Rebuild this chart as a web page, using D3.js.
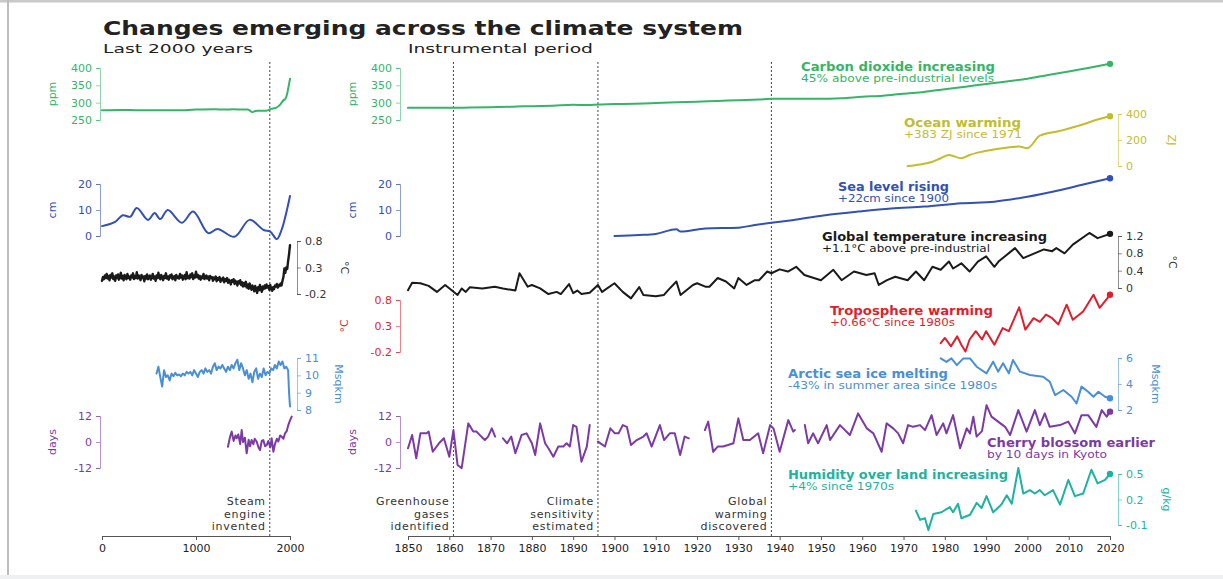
<!DOCTYPE html>
<html>
<head>
<meta charset="utf-8">
<script src="https://cdn.jsdelivr.net/npm/d3@7"></script>
<style>
  body { margin: 0; background: #fff; }
  svg { display: block; font-family: "DejaVu Sans", sans-serif; }
</style>
</head>
<body>
<div id="chart"></div>
<script>
let w = 1223;
let h = 579;

// ---------------- data ----------------

// last 2000 years
let co2Long = [[0,278],[200,279],[400,278],[600,278],[800,278],[1000,280],[1200,281],[1300,280],[1400,281],[1500,280],[1550,280],[1580,276],[1600,272],[1620,275],[1650,277],[1700,277],[1750,277],[1800,282],[1850,285],[1900,296],[1930,307],[1950,311],[1970,326],[1990,354],[2000,369]];

let seaLong = [[0,3.8],[140,5.4],[220,8],[300,7.4],[370,10.8],[490,6.2],[560,8.8],[620,6.5],[700,10],[850,5.1],[970,9.4],[1130,1.1],[1230,2.7],[1410,-0.3],[1570,6.2],[1720,2.3],[1790,1.7],[1860,-1.2],[1910,2.3],[2000,15.4]];

// decadal values, year 0 .. 2000
let tempLongYears = d3.range(0, 2001, 10);
let tempLongVals = [
  0.05, 0.12, 0.08, 0.15, 0.10, 0.18, 0.09, 0.14, 0.06, 0.16, 0.11,
  0.19, 0.08, 0.13, 0.05, 0.15, 0.10, 0.17, 0.07, 0.12, 0.20,
  0.09, 0.14, 0.06, 0.16, 0.11, 0.08, 0.18, 0.10, 0.13, 0.07,
  0.15, 0.11, 0.19, 0.08, 0.14, 0.10, 0.21, 0.09, 0.15, 0.12,
  0.06, 0.16, 0.10, 0.13, 0.04, 0.14, 0.09, 0.17, 0.08, 0.12,
  0.15, 0.07, 0.11, 0.18, 0.09, 0.13, 0.05, 0.15, 0.10, 0.20,
  0.11, 0.08, 0.16, 0.12, 0.06, 0.14, 0.10, 0.19, 0.09, 0.13,
  0.07, 0.15, 0.11, 0.17, 0.08, 0.12, 0.14, 0.06, 0.16, 0.10,
  0.13, 0.09, 0.18, 0.11, 0.15, 0.07, 0.12, 0.16, 0.08, 0.21,
  0.10, 0.14, 0.09, 0.17, 0.12, 0.19, 0.08, 0.15, 0.11, 0.22,
  0.12, 0.16, 0.09, 0.14, 0.07, 0.13, 0.10, 0.18, 0.08, 0.12,
  0.15, 0.09, 0.13, 0.06, 0.14, 0.10, 0.12, 0.05, 0.11, 0.08,
  0.13, 0.04, 0.10, 0.07, 0.12, 0.03, 0.09, 0.06, 0.11, 0.02,
  0.08, 0.05, 0.10, 0.01, 0.07, 0.04, -0.02, 0.06, 0.03, 0.08,
  -0.01, 0.05, 0.02, -0.04, 0.04, 0.00, 0.06, -0.03, 0.02, -0.06,
  0.01, -0.05, 0.03, -0.08, -0.02, -0.10, 0.00, -0.06, -0.12, -0.04,
  -0.09, -0.15, -0.05, -0.11, -0.18, -0.07, -0.13, -0.03, -0.10, -0.16,
  -0.06, -0.11, -0.04, -0.09, -0.02, -0.08, -0.05, -0.12, -0.03, -0.10,
  -0.14, -0.07, -0.11, -0.04, -0.06, -0.01, -0.08, -0.03, -0.05, 0.00,
  -0.04, 0.05, 0.12, 0.28, 0.20, 0.30, 0.27, 0.42, 0.55, 0.72
];

let iceLong = [[580,10.1],[600,10.5],[620,9.9],[640,9.35],[660,10.3],[680,9.9],[700,10.0],[720,9.7],[740,10.1],[760,9.95],[780,10.15],[800,10.0],[820,10.05],[840,9.95],[860,10.1],[880,10.0],[900,10.2],[920,10.1],[940,10.2],[960,10.0],[980,10.3],[1000,10.1],[1020,9.9],[1040,10.2],[1060,10.3],[1080,10.1],[1100,10.4],[1120,10.2],[1140,10.3],[1160,10.1],[1180,10.5],[1200,10.7],[1220,10.3],[1240,10.5],[1260,10.4],[1280,10.6],[1300,10.4],[1320,10.2],[1340,10.5],[1360,10.3],[1380,10.6],[1400,10.4],[1420,10.7],[1440,10.9],[1460,10.3],[1480,10.7],[1500,10.4],[1520,10.0],[1540,10.3],[1560,9.8],[1580,10.1],[1600,9.6],[1620,10.2],[1640,10.4],[1660,9.8],[1680,10.1],[1700,9.9],[1720,10.4],[1740,10.0],[1760,10.2],[1780,10.1],[1800,10.4],[1820,10.3],[1840,10.6],[1860,10.4],[1880,10.8],[1900,10.6],[1920,10.8],[1940,10.4],[1960,10.5],[1980,10.3],[1990,9.0],[2000,8.2]];

let cherryLong = [[1340,-2.2],[1360,2],[1380,4.8],[1400,0.5],[1420,3],[1433,1.7],[1450,3.5],[1470,-1],[1486,5.5],[1500,0],[1520,2],[1539,-5.2],[1560,1],[1575,-2],[1592,0.9],[1610,-1],[1625,1.5],[1645,0.2],[1665,-2.5],[1681,-3.7],[1700,0.5],[1716,0.9],[1735,-2],[1752,-1.4],[1770,0.5],[1790,-2.5],[1805,1.7],[1823,-4.5],[1840,-1],[1860,1.5],[1876,0.2],[1895,3],[1911,2.5],[1930,1.5],[1947,4],[1965,5],[1982,7.8],[2000,10],[2018,11.7]];

// instrumental period
let co2Inst = [[1850,285],[1855,285.5],[1860,285],[1865,286],[1870,287],[1875,288],[1878,290],[1880,290],[1885,291],[1890,294],[1893,293],[1895,294],[1900,296],[1905,297],[1910,299],[1915,301],[1920,303],[1925,305],[1930,307],[1935,309],[1938,311],[1940,311],[1945,311],[1950,311],[1955,313],[1960,317],[1965,320],[1970,326],[1975,331],[1980,339],[1985,346],[1990,354],[1995,361],[2000,369],[2005,380],[2010,390],[2015,401],[2020,412]];

let oceanInst = [[1971,0],[1974,12],[1977,33],[1979,60],[1981,85],[1984,60],[1986,85],[1989,110],[1994,137],[1998,150],[2000,137],[2003,233],[2008,271],[2013,315],[2016,348],[2020,383]];

let seaInst = [[1900,0],[1906,0.4],[1910,0.8],[1915,2.6],[1916,1.7],[1922,2.9],[1930,3.2],[1934,4.2],[1938,5.1],[1943,6.1],[1951,8],[1959,9.4],[1967,10.6],[1975,11.3],[1984,12.6],[1992,13.2],[2000,15.1],[2008,17.7],[2013,19.6],[2020,22.2]];

let tempInst = [[1850,-0.05],[1851,0.12],[1853,0.11],[1855,0.05],[1857,-0.09],[1859,0.07],[1862,-0.16],[1863,-0.01],[1864,-0.09],[1865,0.02],[1868,-0.01],[1871,0.03],[1873,-0.01],[1876,-0.06],[1877,0.34],[1879,0.03],[1880,0.07],[1882,-0.01],[1884,-0.14],[1886,-0.09],[1887,-0.14],[1889,0.09],[1890,-0.12],[1891,-0.06],[1892,-0.14],[1894,-0.11],[1896,0.07],[1897,-0.09],[1900,0.11],[1902,-0.09],[1904,-0.24],[1906,0.02],[1907,-0.16],[1910,-0.19],[1912,-0.16],[1913,-0.05],[1915,0.15],[1916,-0.16],[1919,0.07],[1920,0.11],[1922,0.03],[1923,0.03],[1925,0.23],[1927,0.15],[1929,-0.01],[1930,0.23],[1932,0.07],[1934,0.18],[1935,0.18],[1937,0.38],[1938,0.34],[1940,0.43],[1942,0.38],[1944,0.49],[1946,0.30],[1950,0.18],[1953,0.42],[1955,0.18],[1958,0.38],[1961,0.30],[1963,0.34],[1964,0.07],[1966,0.18],[1968,0.26],[1971,0.18],[1973,0.38],[1975,0.18],[1977,0.49],[1979,0.42],[1981,0.61],[1982,0.45],[1984,0.57],[1986,0.38],[1988,0.61],[1990,0.73],[1992,0.49],[1993,0.61],[1997,0.92],[1999,0.69],[2001,0.77],[2004,0.89],[2006,0.85],[2007,0.92],[2009,0.80],[2011,1.0],[2015,1.27],[2017,1.15],[2020,1.25]];

let tropoInst = [[1979,-0.03],[1980,0.07],[1981.5,-0.09],[1983,0.1],[1984,-0.06],[1985,-0.19],[1986,0.04],[1987.5,0.2],[1989,0.04],[1990,0.2],[1992,-0.06],[1994,0.26],[1995.5,0.2],[1998,0.66],[1999.5,0.23],[2001.5,0.45],[2003,0.38],[2004.5,0.52],[2006,0.45],[2007.5,0.33],[2009.5,0.71],[2011,0.42],[2013.5,0.58],[2016,0.9],[2017.5,0.65],[2020,0.9]];

let iceInst = [[1979,5.97],[1980.4,5.7],[1981.6,5.97],[1982.9,5.45],[1984.5,5.97],[1986.1,5.97],[1987.7,5.33],[1990.1,4.82],[1991.7,5.72],[1992.9,4.95],[1994.1,5.6],[1995.5,4.82],[1996.5,5.85],[1998.2,4.95],[2000.6,4.69],[2003.8,4.56],[2005.4,4.18],[2006.7,3.15],[2008.7,3.54],[2010.7,3.02],[2011.9,2.5],[2013.1,3.8],[2014.7,3.4],[2016,3.02],[2017.2,3.4],[2018.8,3.02],[2020,2.9]];

// null = missing years
let cherryInst = [[1850,-2.9],[1851,3.2],[1852,-7.5],[1853,4],[1854.5,4],[1855,4.8],[1856,-4.5],[1857.5,-0.6],[1858.7,1.7],[1860,-6.8],[1861,5.5],[1862,-10.6],[1863,-12.1],[1864.6,8.6],[1865.8,4.8],[1866.6,4.8],[1867.4,3.2],[1868.6,0.9],[1869.4,2.5],[1870.3,6.3],[1871.1,2.5],[1872,null],[1873,1.7],[1874,-0.6],[1875,2.5],[1876,-5.2],[1877.5,3.2],[1878.7,4],[1880,-0.6],[1880.8,-6],[1882,8.6],[1883.2,-0.6],[1884,-2.9],[1885.2,-6.8],[1886.4,-2.1],[1887.6,-2.1],[1888.4,-0.6],[1889.2,-2.1],[1890,7.8],[1890.8,7],[1892,-9.1],[1893.3,-2.1],[1894,7.8],[1895,null],[1896,0.2],[1897.7,-2.1],[1899,6.3],[1900.1,4],[1901,4],[1902,7.8],[1903,7],[1904,-1.4],[1905.4,0.9],[1907,2.5],[1907.8,4],[1909,-2.1],[1911,7.8],[1912,0.9],[1913.4,4],[1914.6,4],[1915.9,-6],[1917,2.5],[1918,1.7],[1920,null],[1921.9,5.5],[1922.7,9.4],[1923.9,-4.5],[1925,-2.1],[1926.3,-2.1],[1927.5,-1.4],[1928.8,-0.6],[1930,10.9],[1931.2,0.9],[1932.8,0.9],[1934.8,4],[1936,-5.2],[1937.7,7.8],[1938.5,6.3],[1940,-4.5],[1942.1,10.1],[1943.3,4.8],[1943.7,5.5],[1945,null],[1946.1,7.8],[1946.9,-0.6],[1948.1,4],[1949.3,-0.6],[1951.4,7.8],[1952.2,0.9],[1954.6,7.8],[1957,3.2],[1959,13.2],[1961.1,6.3],[1962.7,4],[1964.7,-4.5],[1965.9,8.6],[1967.5,6.3],[1968.7,4],[1969.9,-0.6],[1971.1,7.8],[1972.3,7],[1974,7.8],[1975.2,5.5],[1976.8,12.4],[1978,3.2],[1979.6,8.6],[1980.4,4],[1982,12.4],[1983.7,-2.9],[1985.3,6.3],[1986.1,4],[1986.9,11.7],[1987.7,2.5],[1989,5],[1990.1,17],[1991.3,11.7],[1992.9,9.4],[1994.6,7],[1995.8,3.2],[1997.8,14.7],[1999.8,4.8],[2001.8,14.7],[2003,7.8],[2004.2,13.2],[2005.4,7],[2007.9,7.8],[2009.9,9.4],[2011.5,4],[2013.1,12.4],[2014.7,12.4],[2016.7,7],[2018,14.7],[2019.2,11.7],[2020,14]];

let humInst = [[1973,0.07],[1974,-0.04],[1975.2,-0.02],[1976,-0.16],[1977.2,0.03],[1979.2,0.05],[1981.2,0.11],[1982,0.05],[1983.2,0.15],[1984,-0.02],[1986.1,0.02],[1987.7,0.16],[1988.9,0.1],[1990.1,0.24],[1991.7,0.05],[1993.7,0.14],[1995,0.25],[1996.2,0.15],[1997.8,0.57],[1999,0.27],[2000.6,0.31],[2001.8,0.27],[2003,0.31],[2004.2,0.25],[2006.2,0.31],[2007.9,0.14],[2009.9,0.43],[2011.5,0.24],[2013.5,0.27],[2015.5,0.55],[2017,0.39],[2018.8,0.43],[2020,0.5]];

// tick labels
let longTicks = [0, 1000, 2000];
let instTicks = d3.range(1850, 2021, 10);
let co2Ticks = [250, 300, 350, 400];
let seaTicks = [0, 10, 20];
let tempLongTicks = [-0.2, 0.3, 0.8];
let tempTicks = [0, 0.4, 0.8, 1.2];
let iceLongTicks = [8, 9, 10, 11];
let iceTicks = [2, 4, 6];
let cherryTicks = [-12, 0, 12];
let oceanTicks = [0, 200, 400];
let humTicks = [-0.1, 0.2, 0.5];

// events
let longEvents = [{year: 1785, label: ["Steam", "engine", "invented"]}];
let instEvents = [
  {year: 1861, label: ["Greenhouse", "gases", "identified"]},
  {year: 1896, label: ["Climate", "sensitivity", "estimated"]},
  {year: 1938, label: ["Global", "warming", "discovered"]}
];

// series captions
let captions = [
  {title: "Carbon dioxide increasing", sub: "45% above pre-industrial levels", color: "#35b567"},
  {title: "Ocean warming", sub: "+383 ZJ since 1971", color: "#c2bd2c"},
  {title: "Sea level rising", sub: "+22cm since 1900", color: "#3350b4"},
  {title: "Global temperature increasing", sub: "+1.1°C above pre-industrial", color: "#1a1a1a"},
  {title: "Troposphere warming", sub: "+0.66°C since 1980s", color: "#df1f2d"},
  {title: "Arctic sea ice melting", sub: "-43% in summer area since 1980s", color: "#4a8fd6"},
  {title: "Cherry blossom earlier", sub: "by 10 days in Kyoto", color: "#7b3aa6"},
  {title: "Humidity over land increasing", sub: "+4% since 1970s", color: "#1db3a0"}
];

// ---------------- drawing ----------------

let cCO2 = "#35b567", cOcean = "#c2bd2c", cSea = "#3350b4", cTemp = "#1a1a1a",
    cTropo = "#df1f2d", cIce = "#4a8fd6", cCherry = "#7b3aa6", cHum = "#1db3a0";

let viz = d3.select("#chart")
  .append("svg")
  .attr("width", w)
  .attr("height", h);

// frame of the original figure
viz.append("rect").attr("x", 0).attr("y", 0).attr("width", w).attr("height", 2.5).attr("fill", "#c9c9c9");
viz.append("rect").attr("x", 7).attr("y", 0).attr("width", 2).attr("height", 575).attr("fill", "#bdbdbd");
viz.append("rect").attr("x", 0).attr("y", 575).attr("width", w).attr("height", 4).attr("fill", "#eef0f2");

let xLong = d3.scaleLinear().domain([0, 2000]).range([102, 290]);
let xInst = d3.scaleLinear().domain([1850, 2020]).range([408, 1110]);

let yCO2 = d3.scaleLinear().domain([250, 400]).range([120, 68]);
let ySea = d3.scaleLinear().domain([0, 20]).range([236, 184]);
let yTempLong = d3.scaleLinear().domain([-0.2, 0.8]).range([294, 241]);
let yTemp = d3.scaleLinear().domain([0, 1.2]).range([288, 236]);
let yTropo = d3.scaleLinear().domain([-0.2, 0.8]).range([352, 300]);
let yIceLong = d3.scaleLinear().domain([8, 11]).range([410, 358]);
let yIce = d3.scaleLinear().domain([2, 6]).range([410, 358]);
let yCherry = d3.scaleLinear().domain([-12, 12]).range([468, 416]);
let yOcean = d3.scaleLinear().domain([0, 400]).range([166, 114]);
let yHum = d3.scaleLinear().domain([-0.1, 0.5]).range([525, 474]);

// dotted event lines + their labels
function drawEvents(events, xs){
  events.forEach(function(e){
    viz.append("line")
      .attr("x1", xs(e.year)).attr("x2", xs(e.year))
      .attr("y1", 62).attr("y2", 536)
      .attr("stroke", "#444").attr("stroke-width", 1)
      .attr("stroke-dasharray", "2,2");
    e.label.forEach(function(t, i){
      viz.append("text")
        .attr("x", xs(e.year) - 4)
        .attr("y", 505 + i * 12.5)
        .attr("text-anchor", "end")
        .attr("fill", "#333")
        .style("font-size", "11px")
        .style("letter-spacing", "0.7px")
        .text(t);
    });
  });
}
drawEvents(longEvents, xLong);
drawEvents(instEvents, xInst);

function drawAxis(ys, xPos, side, ticks, color, unit, unitX){
  let ax = (side == "left" ? d3.axisLeft(ys) : d3.axisRight(ys))
    .tickValues(ticks)
    .tickSize(4)
    .tickSizeOuter(4)
    .tickPadding(4)
    .tickFormat(d => String(d));
  let g = viz.append("g")
    .attr("transform", "translate(" + xPos + ",0)")
    .call(ax);
  g.attr("font-family", null).attr("font-size", null);
  g.select(".domain").attr("stroke", color).attr("stroke-opacity", 0.55);
  g.selectAll(".tick line").attr("stroke", color).attr("stroke-opacity", 0.55);
  g.selectAll(".tick text").attr("fill", color).style("font-size", "11px");
  let r = ys.range();
  viz.append("text")
    .attr("transform", "translate(" + unitX + "," + ((r[0] + r[1]) / 2) + ") rotate(" + (side == "left" ? -90 : 90) + ")")
    .attr("text-anchor", "middle")
    .attr("dominant-baseline", "central")
    .attr("fill", color)
    .style("font-size", "11px")
    .text(unit);
}

function drawLine(data, xs, ys, color, sw, curve, dot){
  let line = d3.line()
    .defined(d => d[1] != null)
    .x(d => xs(d[0]))
    .y(d => ys(d[1]))
    .curve(curve || d3.curveLinear);
  viz.append("path")
    .datum(data)
    .attr("d", line)
    .attr("fill", "none")
    .attr("stroke", color)
    .attr("stroke-width", sw)
    .attr("stroke-linejoin", "round")
    .attr("stroke-linecap", "round");
  if(dot){
    let last = data[data.length - 1];
    viz.append("circle")
      .attr("cx", xs(last[0]))
      .attr("cy", ys(last[1]))
      .attr("r", 3.2)
      .attr("fill", color);
  }
}

// left panel axes
drawAxis(yCO2, 100, "left", co2Ticks, cCO2, "ppm", 52);
drawAxis(ySea, 100, "left", seaTicks, cSea, "cm", 52);
drawAxis(yCherry, 100, "left", cherryTicks, cCherry, "days", 52);
drawAxis(yTempLong, 297, "right", tempLongTicks, "#333", "°C", 344);
drawAxis(yIceLong, 297, "right", iceLongTicks, cIce, "Msqkm", 338);

// right panel axes
drawAxis(yCO2, 400, "left", co2Ticks, cCO2, "ppm", 352);
drawAxis(ySea, 400, "left", seaTicks, cSea, "cm", 352);
drawAxis(yTropo, 400, "left", tempLongTicks, cTropo, "°C", 344);
drawAxis(yCherry, 400, "left", cherryTicks, cCherry, "days", 352);
drawAxis(yOcean, 1118, "right", oceanTicks, cOcean, "ZJ", 1171);
drawAxis(yTemp, 1118, "right", tempTicks, "#333", "°C", 1172);
drawAxis(yIce, 1118, "right", iceTicks, cIce, "Msqkm", 1155);
drawAxis(yHum, 1118, "right", humTicks, cHum, "g/kg", 1166);

// left panel series
let tempLong = tempLongYears.map((y, i) => [y, tempLongVals[i]]);
drawLine(co2Long, xLong, yCO2, cCO2, 2, d3.curveMonotoneX, false);
drawLine(seaLong, xLong, ySea, cSea, 2, d3.curveCatmullRom.alpha(0.5), false);
drawLine(tempLong, xLong, yTempLong, cTemp, 2.4, d3.curveLinear, false);
drawLine(iceLong, xLong, yIceLong, cIce, 2, d3.curveLinear, false);
drawLine(cherryLong, xLong, yCherry, cCherry, 2, d3.curveLinear, false);

// right panel series
drawLine(co2Inst, xInst, yCO2, cCO2, 2, d3.curveMonotoneX, true);
drawLine(oceanInst, xInst, yOcean, cOcean, 2, d3.curveMonotoneX, true);
drawLine(seaInst, xInst, ySea, cSea, 2, d3.curveMonotoneX, true);
drawLine(tempInst, xInst, yTemp, cTemp, 2, d3.curveLinear, true);
drawLine(tropoInst, xInst, yTropo, cTropo, 2, d3.curveLinear, true);
drawLine(iceInst, xInst, yIce, cIce, 2, d3.curveLinear, true);
drawLine(cherryInst, xInst, yCherry, cCherry, 2, d3.curveLinear, true);
drawLine(humInst, xInst, yHum, cHum, 2, d3.curveLinear, true);

// x axes
function drawX(xs, ticks){
  let g = viz.append("g")
    .attr("transform", "translate(0,536)")
    .call(d3.axisBottom(xs).tickValues(ticks).tickSize(4).tickSizeOuter(0).tickPadding(4).tickFormat(d => String(d)));
  g.attr("font-family", null).attr("font-size", null);
  g.select(".domain").attr("stroke", "#555");
  g.selectAll(".tick line").attr("stroke", "#555");
  g.selectAll(".tick text").attr("fill", "#222").style("font-size", "11px");
}
drawX(xLong, longTicks);
drawX(xInst, instTicks);

// captions: [x, baseline, title width, sub width]
let captionPos = [
  [801, 71, 194, 193],
  [904, 127, 117, 118],
  [838, 191, 111, 111],
  [822, 241, 225, 168],
  [830, 315, 163, 125],
  [788, 378, 160, 209],
  [987, 447, 168, 120],
  [788, 479, 220, 106]
];
captions.forEach(function(c, i){
  let p = captionPos[i];
  viz.append("text")
    .attr("x", p[0]).attr("y", p[1])
    .attr("fill", c.color)
    .attr("font-weight", "bold")
    .attr("textLength", p[2])
    .attr("lengthAdjust", "spacingAndGlyphs")
    .style("font-size", "11.5px")
    .text(c.title);
  viz.append("text")
    .attr("x", p[0]).attr("y", p[1] + 10.5)
    .attr("fill", c.color)
    .attr("textLength", p[3])
    .attr("lengthAdjust", "spacingAndGlyphs")
    .style("font-size", "10px")
    .text(c.sub);
});

// titles
viz.append("text")
  .attr("x", 103).attr("y", 35)
  .attr("font-weight", "bold")
  .attr("fill", "#222")
  .attr("textLength", 640)
  .attr("lengthAdjust", "spacingAndGlyphs")
  .style("font-size", "20px")
  .text("Changes emerging across the climate system");

viz.append("text")
  .attr("x", 103).attr("y", 53)
  .attr("fill", "#222")
  .attr("textLength", 150)
  .attr("lengthAdjust", "spacingAndGlyphs")
  .style("font-size", "13px")
  .text("Last 2000 years");

viz.append("text")
  .attr("x", 408).attr("y", 53)
  .attr("fill", "#222")
  .attr("textLength", 185)
  .attr("lengthAdjust", "spacingAndGlyphs")
  .style("font-size", "13px")
  .text("Instrumental period");
</script>
</body>
</html>
